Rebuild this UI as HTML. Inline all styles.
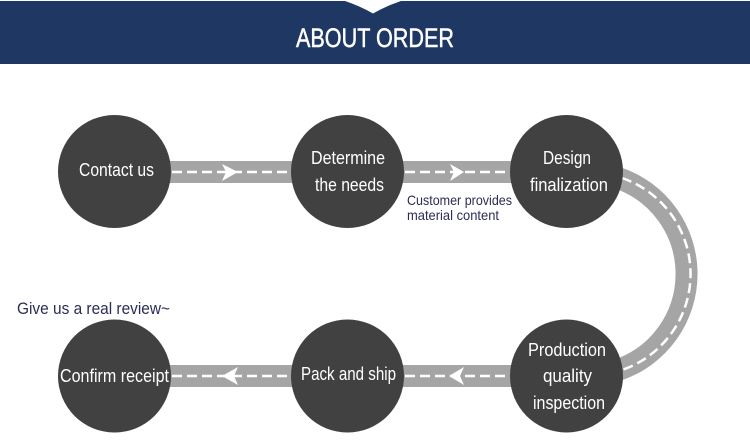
<!DOCTYPE html>
<html><head><meta charset="utf-8"><style>
html,body{margin:0;padding:0;background:#fff}
svg{display:block}
text{font-family:"Liberation Sans",sans-serif;fill:#fff}
.n{font-size:18px}
.d{fill:#2b2d55;font-size:14px}
</style></head><body>
<svg width="750" height="441" viewBox="0 0 750 441" xmlns="http://www.w3.org/2000/svg">
<rect width="750" height="441" fill="#fff"/>
<rect x="0" y="1" width="750" height="63" fill="#1f3763"/>
<path d="M345 1 Q360 6 373 13.500 Q386 6 401 1Z" fill="#fff"/>
<text x="296" y="47" font-size="27" stroke="#fff" stroke-width="0.5" textLength="158" lengthAdjust="spacingAndGlyphs">ABOUT ORDER</text>

<g fill="#a5a5a5">
<rect x="165" y="161" width="135" height="22"/>
<rect x="395" y="161" width="125" height="22"/>
<rect x="165" y="365" width="135" height="22"/>
<rect x="395" y="365" width="125" height="22"/>
</g>
<path d="M618 178 A101.500 101.500 0 0 1 618 370" fill="none" stroke="#a5a5a5" stroke-width="22"/>

<g fill="none" stroke="#fff" stroke-width="2.500" stroke-dasharray="10 5">
<path d="M172 172H291"/>
<path d="M405 172H510"/>
<path d="M172 376H291"/>
<path d="M405 376H510"/>
<path d="M622 178 A101.500 101.500 0 0 1 622 370"/>
</g>
<g fill="#fff">
<path d="M222 164 L238 172 L222 181 L226 172Z"/>
<path d="M450 164 L464 172 L450 181 L454 172Z"/>
<path d="M238 367 L222 376 L238 385 L234 376Z"/>
<path d="M464 367 L449 376 L464 385 L460 376Z"/>
</g>

<g fill="#414141">
<circle cx="114.500" cy="171.500" r="56.500"/>
<circle cx="347.500" cy="171.500" r="56.500"/>
<circle cx="566.500" cy="171.500" r="56.500"/>
<circle cx="566.500" cy="376" r="56.500"/>
<circle cx="347.500" cy="376" r="56.500"/>
<circle cx="114.500" cy="376" r="56.500"/>
</g>

<g>
<text class="n" x="79" y="176" textLength="75" lengthAdjust="spacingAndGlyphs">Contact us</text>
<text class="n" x="311" y="164" textLength="74" lengthAdjust="spacingAndGlyphs">Determine</text>
<text class="n" x="315" y="191" textLength="69" lengthAdjust="spacingAndGlyphs">the needs</text>
<text class="n" x="543" y="164" textLength="48" lengthAdjust="spacingAndGlyphs">Design</text>
<text class="n" x="530" y="191" textLength="78" lengthAdjust="spacingAndGlyphs">finalization</text>
<text class="n" x="528" y="356" textLength="78" lengthAdjust="spacingAndGlyphs">Production</text>
<text class="n" x="543" y="382" textLength="49" lengthAdjust="spacingAndGlyphs">quality</text>
<text class="n" x="533" y="409" textLength="72" lengthAdjust="spacingAndGlyphs">inspection</text>
<text class="n" x="301" y="380" textLength="95" lengthAdjust="spacingAndGlyphs">Pack and ship</text>
<text class="n" x="60" y="382" textLength="109" lengthAdjust="spacingAndGlyphs">Confirm receipt</text>
</g>
<text class="d" x="407" y="205" textLength="105" lengthAdjust="spacingAndGlyphs">Customer provides</text>
<text class="d" x="407" y="220" textLength="92" lengthAdjust="spacingAndGlyphs">material content</text>
<text class="d" x="17" y="314" style="font-size:17px" textLength="153" lengthAdjust="spacingAndGlyphs">Give us a real review~</text>
</svg>
</body></html>
